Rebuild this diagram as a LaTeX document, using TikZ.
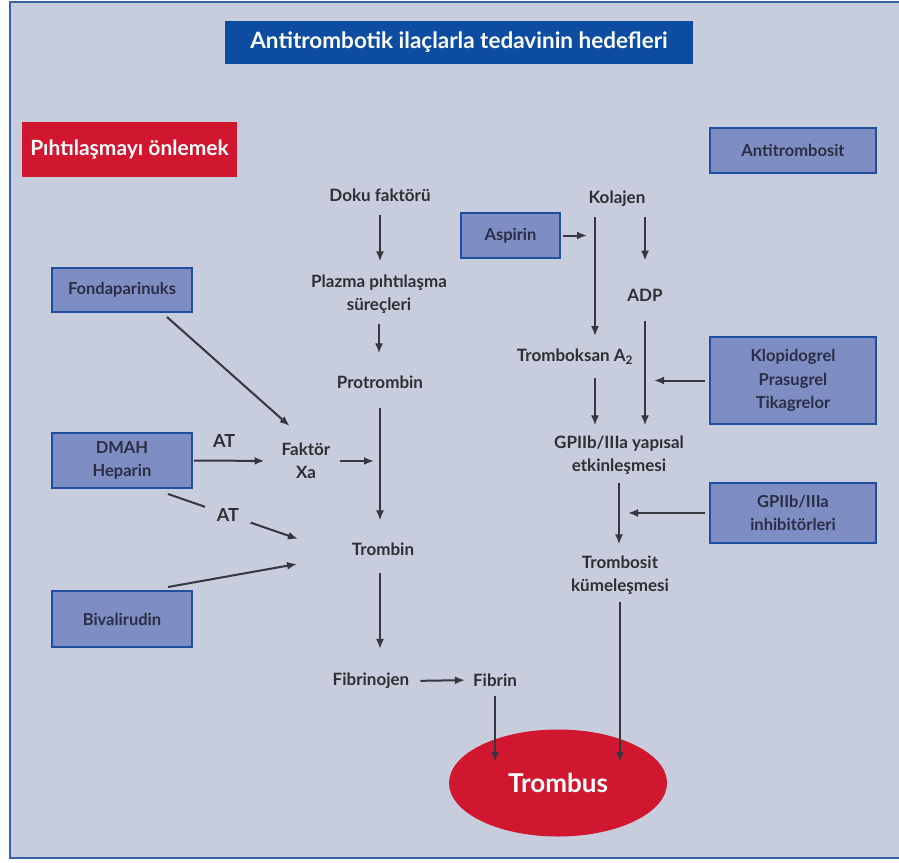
\documentclass[tikz,border=0pt]{standalone}
\usepackage{fontspec}
\setmainfont{Lato}
\usetikzlibrary{arrows.meta,shapes.geometric}
\definecolor{bg}{HTML}{C8CDDD}
\definecolor{framecol}{HTML}{3563A8}
\definecolor{titleblue}{HTML}{0C4DA2}
\definecolor{boxfill}{HTML}{7F8EC2}
\definecolor{boxdraw}{HTML}{1F4E9F}
\definecolor{redbox}{HTML}{D0172F}
\definecolor{ink}{HTML}{2E2E33}
\definecolor{boxink}{HTML}{2A2E45}
\definecolor{lineink}{HTML}{35373F}
\begin{document}
\begin{tikzpicture}[x=1pt,y=-1pt,
  lbl/.style={font=\fontsize{17}{23}\selectfont\bfseries, text=ink, align=center, inner sep=0pt},
  drug/.style={draw=boxdraw, line width=2.6pt, fill=boxfill, font=\fontsize{16.5}{23.5}\selectfont\bfseries, text=boxink, align=center, inner sep=0pt, outer sep=0pt},
  arr/.style={draw=lineink, line width=2pt, -{Latex[length=10pt,width=8pt]}},
  atlbl/.style={font=\fontsize{18}{20}\selectfont\bfseries, text=ink, inner sep=0pt}]
\useasboundingbox (0,0) rectangle (899,862);
\fill[white] (0,0) rectangle (899,862);
\fill[bg] (10,2) rectangle (899,858);
\draw[framecol, line width=2pt] (899,2) -- (10,2) -- (10,858) -- (899,858);

% headers
\node[fill=titleblue, minimum width=468pt, minimum height=43pt, inner sep=0pt, text=white, font=\fontsize{22.5}{24}\selectfont\bfseries] (title) at (459,42.5) {Antitrombotik ilaçlarla tedavinin hedefleri};
\node[fill=redbox, minimum width=215pt, minimum height=55pt, inner sep=0pt, text=white, font=\fontsize{21}{24}\selectfont\bfseries] (red) at (129.5,149.5) {Pıhtılaşmayı önlemek};
\node[drug, minimum width=166pt, minimum height=45pt] (antitr) at (793,150.5) {Antitrombosit};

% drug boxes
\node[drug, minimum width=140pt, minimum height=44pt] (fonda) at (122,290) {Fondaparinuks};
\node[drug, minimum width=140pt, minimum height=55pt] (dmah) at (122,460.5) {DMAH\\Heparin};
\node[drug, minimum width=140pt, minimum height=56pt] (bival) at (122,619) {Bivalirudin};
\node[drug, minimum width=99pt, minimum height=45pt] (aspirin) at (510.5,235.5) {Aspirin};
\node[drug, minimum width=166pt, minimum height=87pt] (klop) at (793,380.5) {Klopidogrel\\Prasugrel\\Tikagrelor};
\node[drug, minimum width=166pt, minimum height=60pt] (gpinh) at (793,513) {GPIIb/IIIa\\inhibitörleri};

% coagulation cascade
\node[lbl] (doku) at (380,195) {Doku faktörü};
\node[lbl] (plazma) at (379,294) {Plazma pıhtılaşma\\süreçleri};
\node[lbl] (protr) at (380,382) {Protrombin};
\node[lbl] (faktor) at (306,461) {Faktör\\Xa};
\node[lbl] (trombin) at (383,549) {Trombin};
\node[lbl] (fibrinojen) at (371,681) {Fibrinojen};
\node[lbl] (fibrin) at (495,680) {Fibrin};

% platelet pathway
\node[lbl] (kolajen) at (617,199) {Kolajen};
\node[lbl] (adp) at (645,295) {ADP};
\node[lbl] (tromboksan) at (575,357) {Tromboksan A\textsubscript{2}};
\node[lbl] (gpy) at (619,455) {GPIIb/IIIa yapısal\\etkinleşmesi};
\node[lbl] (tkum) at (620,575) {Trombosit\\kümeleşmesi};

\node[ellipse, fill=redbox, minimum width=218pt, minimum height=107pt, inner sep=0pt, text=white, font=\fontsize{26}{28}\selectfont\bfseries] (trombus) at (558,783) {Trombus};

\coordinate (kl) at ([xshift=-22pt]kolajen.south);
\coordinate (tin1) at (298,539);
\coordinate (tin2) at (297,564);

% cascade arrows
\draw[arr, shorten <=13pt, shorten >=13pt] (doku.south) -- (doku.south |- plazma.north);
\draw[arr, shorten <=10pt, shorten >=22pt] (plazma.south) -- (plazma.south |- protr.north);
\draw[arr, shorten <=19pt, shorten >=22pt] (protr.south) -- (protr.south |- trombin.north);
\draw[arr, shorten <=17pt, shorten >=24pt] (protr.south |- trombin.south) -- (protr.south |- fibrinojen.north);
\draw[arr, shorten <=11pt, shorten >=8pt] (fibrinojen.east) -- (fibrin.west);
\draw[arr, shorten <=9pt, shorten >=21pt] (fibrin.south) -- (fibrin.south |- trombus.center);

% drugs on the cascade
\draw[arr] ([xshift=45pt,yshift=-5pt]fonda.south) -- ([xshift=8pt,yshift=17pt]faktor.north west);
\draw[arr, shorten <=2pt, shorten >=17pt] (dmah.east) -- node[atlbl, pos=0.36, above=12pt] (at1) {AT} (faktor.west);
\draw[arr, shorten <=10pt, shorten >=6pt] (faktor.east) -- (faktor.east -| protr.south);
\draw[arr] ([xshift=46pt,yshift=-6pt]dmah.south) -- node[atlbl, pos=0.46, fill=bg, inner xsep=12pt, inner ysep=2pt] (at2) {AT} (tin1);
\draw[arr] ([xshift=46pt,yshift=4pt]bival.north) -- (tin2);

% platelet arrows
\draw[arr, shorten <=10pt, shorten >=13pt] (kl) -- (kl |- tromboksan.north);
\draw[arr, shorten <=3pt, shorten >=8pt] (aspirin.east) -- (aspirin.east -| kl);
\draw[arr, shorten <=10pt, shorten >=28pt] (kolajen.south -| adp.north) -- (adp.north);
\draw[arr, shorten <=20pt, shorten >=10pt] (adp.south) -- (adp.south |- gpy.north);
\draw[arr, shorten <=13pt, shorten >=10pt] (kl |- tromboksan.south) -- (kl |- gpy.north);
\draw[arr, shorten <=5pt, shorten >=9pt] (klop.west) -- (klop.west -| adp.south);
\draw[arr, shorten <=8pt, shorten >=11pt] (gpy.south) -- (gpy.south |- tkum.north);
\draw[arr, shorten <=5pt, shorten >=9pt] (gpinh.west) -- (gpinh.west -| gpy.south);
\draw[arr, shorten <=7pt, shorten >=21pt] (tkum.south) -- (tkum.south |- trombus.center);
\end{tikzpicture}
\end{document}
